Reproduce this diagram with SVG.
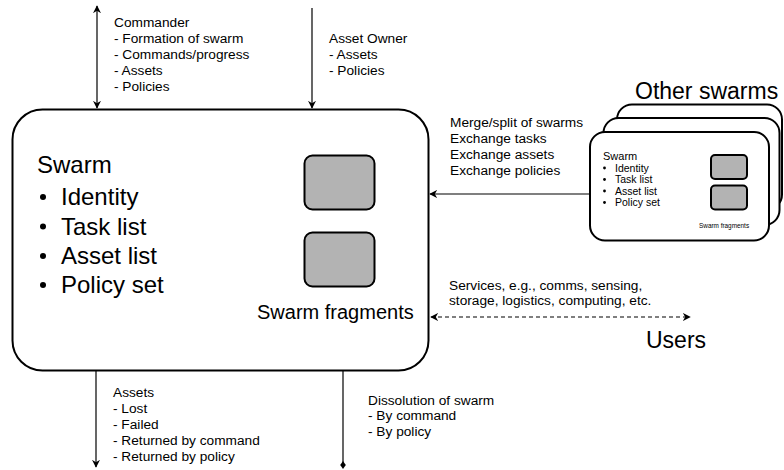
<svg xmlns="http://www.w3.org/2000/svg" width="784" height="470" viewBox="0 0 784 470">
<style>
  text { font-family: "Liberation Sans", Arial, Helvetica, sans-serif; fill: #000; }
  .lbl { font-size: 13.7px; }
  .big { font-size: 24px; }
  .frag { fill: #b3b3b3; stroke: #000; stroke-width: 2; }
  .box { fill: #fff; stroke: #000; stroke-width: 2; }
  .edge { fill: none; stroke: #000; stroke-width: 1.2; }
</style>
<defs>
  <marker id="arr" viewBox="0 0 10 10" refX="9" refY="5" markerWidth="8" markerHeight="8" markerUnits="userSpaceOnUse" orient="auto-start-reverse">
    <path d="M0,0 L10,5 L0,10 L3,5 Z" fill="#000"/>
  </marker>
  <marker id="dia" viewBox="0 0 10 10" refX="5" refY="5" markerWidth="8" markerHeight="8" markerUnits="userSpaceOnUse" orient="auto">
    <path d="M0,5 L5,1.5 L10,5 L5,8.5 Z" fill="#000"/>
  </marker>
</defs>

<g id="connectors">
  <line class="edge" x1="97" y1="6" x2="97" y2="108" marker-start="url(#arr)" marker-end="url(#arr)"/>
  <line class="edge" x1="312" y1="8" x2="312" y2="108" marker-end="url(#arr)"/>
  <line class="edge" x1="590" y1="194" x2="430" y2="194" marker-end="url(#arr)"/>
  <line class="edge" x1="431" y1="317" x2="690" y2="317" stroke-dasharray="4 3" marker-start="url(#arr)" marker-end="url(#arr)"/>
  <line class="edge" x1="96" y1="371" x2="96" y2="467" marker-end="url(#arr)"/>
  <line class="edge" x1="343" y1="371" x2="343" y2="465" marker-end="url(#dia)"/>
</g>

<g id="commander-label">
  <text class="lbl" x="114" y="27">Commander</text>
  <text class="lbl" x="114" y="43">- Formation of swarm</text>
  <text class="lbl" x="114" y="59">- Commands/progress</text>
  <text class="lbl" x="114" y="75">- Assets</text>
  <text class="lbl" x="114" y="91">- Policies</text>
</g>

<g id="asset-owner-label">
  <text class="lbl" x="329" y="43">Asset Owner</text>
  <text class="lbl" x="329" y="59">- Assets</text>
  <text class="lbl" x="329" y="75">- Policies</text>
</g>

<g id="swarm">
  <rect class="box" x="12.5" y="109.5" width="416" height="261" rx="30" ry="30"/>
  <text class="big" x="37" y="173">Swarm</text>
  <circle cx="43" cy="197" r="3"/>
  <text class="big" x="61" y="205">Identity</text>
  <circle cx="43" cy="226.5" r="3"/>
  <text class="big" x="61" y="234.5">Task list</text>
  <circle cx="43" cy="256" r="3"/>
  <text class="big" x="61" y="264">Asset list</text>
  <circle cx="43" cy="285" r="3"/>
  <text class="big" x="61" y="293">Policy set</text>
  <rect class="frag" x="304.5" y="155.5" width="70" height="54" rx="8" ry="8"/>
  <rect class="frag" x="304.5" y="232.5" width="70" height="54" rx="8" ry="8"/>
  <text x="257" y="319" style="font-size:20px">Swarm fragments</text>
</g>

<g id="exchange-label">
  <text class="lbl" x="450" y="127">Merge/split of swarms</text>
  <text class="lbl" x="450" y="143">Exchange tasks</text>
  <text class="lbl" x="450" y="159">Exchange assets</text>
  <text class="lbl" x="450" y="175">Exchange policies</text>
</g>

<g id="other-swarms">
  <text x="635" y="99" style="font-size:23px">Other swarms</text>
  <rect class="box" x="617" y="104.5" width="165" height="105" rx="15" ry="15"/>
  <rect class="box" x="603.5" y="118" width="176" height="107" rx="15" ry="15"/>
  <rect class="box" x="590" y="132" width="179" height="108.5" rx="15" ry="15"/>
  <text x="603" y="160" style="font-size:11px">Swarm</text>
  <circle cx="604.5" cy="168" r="1.4"/>
  <text x="615" y="171.5" style="font-size:10.5px">Identity</text>
  <circle cx="604.5" cy="179.5" r="1.4"/>
  <text x="615" y="183" style="font-size:10.5px">Task list</text>
  <circle cx="604.5" cy="191" r="1.4"/>
  <text x="615" y="194.5" style="font-size:10.5px">Asset list</text>
  <circle cx="604.5" cy="202.5" r="1.4"/>
  <text x="615" y="206" style="font-size:10.5px">Policy set</text>
  <rect class="frag" x="711" y="155" width="36" height="24" rx="4" ry="4"/>
  <rect class="frag" x="711" y="185.5" width="36" height="24" rx="4" ry="4"/>
  <text x="699" y="228" style="font-size:6.4px">Swarm fragments</text>
</g>

<g id="services-label">
  <text class="lbl" x="449" y="290">Services, e.g., comms, sensing,</text>
  <text class="lbl" x="449" y="305">storage, logistics, computing, etc.</text>
</g>

<g id="users">
  <text x="646" y="348" style="font-size:23px">Users</text>
</g>

<g id="assets-label">
  <text class="lbl" x="113" y="397">Assets</text>
  <text class="lbl" x="113" y="413">- Lost</text>
  <text class="lbl" x="113" y="429">- Failed</text>
  <text class="lbl" x="113" y="445">- Returned by command</text>
  <text class="lbl" x="113" y="461">- Returned by policy</text>
</g>

<g id="dissolution-label">
  <text class="lbl" x="368" y="405">Dissolution of swarm</text>
  <text class="lbl" x="368" y="420">- By command</text>
  <text class="lbl" x="368" y="436">- By policy</text>
</g>
</svg>
